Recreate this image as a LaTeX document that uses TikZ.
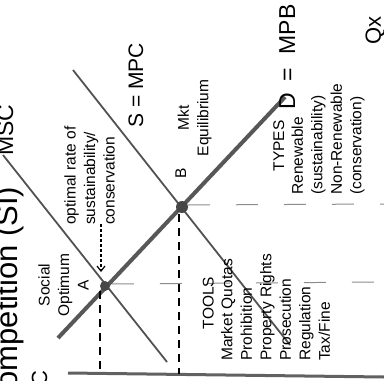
\documentclass[tikz,border=0pt]{standalone}
\usepackage{fontspec}
\setmainfont{Liberation Sans}
\usetikzlibrary{arrows.meta}

\tikzset{
  lbl/.style={rotate=90, inner sep=0pt, font=\fontsize{15.5}{19.5}\selectfont},
  big/.style={rotate=90, inner sep=0pt, font=\fontsize{#1}{#1}\selectfont},
  curve/.style={line width=1.8pt, black!68},
  dem/.style={line width=4pt, black!66},
  dot/.style={circle, fill=black!72, inner sep=0pt, minimum size=#1},
  drop/.style={line width=1.5pt, dash pattern=on 8pt off 6pt},
  level/.style={line width=1pt, black!45, dash pattern=on 22pt off 26pt}
}

\begin{document}
\begin{tikzpicture}[x=1pt, y=-1pt]
\useasboundingbox (0,0) rectangle (384,381);
\clip (0,0) rectangle (384,381);

% curve ends
\coordinate (m1) at (3,155);
\coordinate (m2) at (167,362);
\coordinate (s1) at (73,70);
\coordinate (s2) at (290,345);
\coordinate (d1) at (58,338);
\coordinate (d2) at (285,97);
\coordinate (ax1) at (68,373);
\coordinate (ax2) at (384,377);

% guide ends
\coordinate (ap) at (100,291);
\coordinate (aq) at (100,373);
\coordinate (bp) at (179,214);
\coordinate (bq) at (179,374);
\coordinate (ah1) at (112,284);
\coordinate (ah2) at (384,282);
\coordinate (bh1) at (188,205);
\coordinate (bh2) at (384,204);
\coordinate (c1) at (101,224);
\coordinate (c2) at (101,272);

\draw[line width=3pt, black!62] (ax1) -- (ax2);
\draw[dem] (d1) -- (d2);
\draw[curve] (m1) -- (m2);
\draw[curve] (s1) -- (s2);

\node[dot=10pt] (A) at (105,286) {};
\node[dot=12pt] (B) at (182,207) {};

\draw[drop] (ap) -- (aq);
\draw[drop] (bp) -- (bq);
\draw[level] (ah1) -- (ah2);
\draw[level] (bh1) -- (bh2);
\draw[line width=1.2pt, dash pattern=on 3pt off 2pt,
  -{Straight Barb[length=5pt, width=8pt]}] (c1) -- (c2);

\node[big=31, anchor=base west] (title) at (17,411) {Competition (SI)};
\node[big=23, anchor=base west] (msclbl) at (13,156) {MSC};
\node[big=22, anchor=base west] (clbl) at (47,387) {C};
\node[big=21, anchor=base west] (slbl) at (143,128) {S = MPC};
\node[big=23, anchor=base west] (dlbl) at (295,110) {D\hspace{.5em}=\hspace{.6em}MPB};
\node[big=22, anchor=base west] (qlbl) at (381,45) {Qx};

\node[lbl, anchor=base west] (blbl) at (186,179) {B};
\node[lbl, align=center] (alb) at (63.6,285) {Social\\Optimum\\A};
\node[lbl, align=left, anchor=west] (opt) at (89.5,225)
  {optimal rate of\\sustainability/\\conservation};
\node[lbl, align=center] (mkt) at (194.5,118) {Mkt\\Equilibrium};
\node[lbl, anchor=base] (types) at (284,146) {TYPES};
\node[lbl, align=left, anchor=west] (typelist) at (328,195)
  {Renewable\\(sustainability)\\Non-Renewable\\(conservation)};
\node[lbl, anchor=base] (tools) at (213.5,303) {TOOLS};
\node[lbl, align=left, anchor=west] (toollist) at (275.5,361)
  {Market Quotas\\Prohibition\\Property Rights\\Prosecution\\Regulation\\Tax/Fine};
\end{tikzpicture}
\end{document}
